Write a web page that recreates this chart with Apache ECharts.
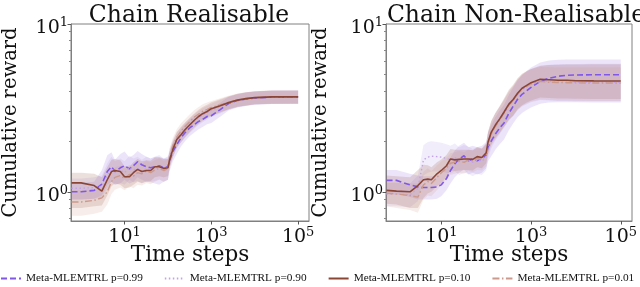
<!DOCTYPE html>
<html><head><meta charset="utf-8">
<script src="https://cdn.jsdelivr.net/npm/echarts@6/dist/echarts.min.js"></script>
<style>html,body{margin:0;padding:0;background:#fff}#c{width:640px;height:287px}</style>
</head><body><div id="c"></div>
<script>
// ---------- data ----------
const timeSteps = [0.6,1,2,3,4,5,6,8,10,13,16,20,25,32,40,50,63,80,100,110,130,160,200,250,320,400,500,630,800,1000,1600,2500,4000,6300,10000,25000,100000];
const panelTitles = ['Chain Realisable', 'Chain Non-Realisable'];
const seriesNames = ['Meta-MLEMTRL p=0.99', 'Meta-MLEMTRL p=0.90', 'Meta-MLEMTRL p=0.10', 'Meta-MLEMTRL p=0.01'];
const xTickValues = [10, 1000, 100000];
const yTickValues = [1, 10];
const yMinorTickValues = [0.7, 0.8, 0.9, 2, 3, 4, 5, 6, 7, 8, 9];

// Chain Realisable
const realP99   = [1.00,1.00,1.02,1.11,1.32,1.41,1.32,1.39,1.43,1.37,1.43,1.51,1.45,1.41,1.39,1.41,1.43,1.39,1.41,1.54,1.74,1.91,2.10,2.26,2.41,2.51,2.62,2.70,2.81,2.84,3.09,3.36,3.50,3.57,3.62,3.67,3.68];
const realP99Lo = [0.90,0.90,0.91,0.95,1.10,1.15,1.10,1.12,1.18,1.12,1.15,1.22,1.18,1.15,1.14,1.12,1.10,1.15,1.18,1.33,1.52,1.68,1.86,2.01,2.15,2.25,2.35,2.43,2.53,2.57,2.80,3.05,3.18,3.25,3.30,3.34,3.35];
const realP99Hi = [1.13,1.13,1.15,1.35,1.65,1.72,1.55,1.68,1.74,1.60,1.66,1.75,1.68,1.62,1.58,1.62,1.62,1.58,1.60,1.74,1.97,2.15,2.36,2.53,2.69,2.80,2.91,3.00,3.10,3.13,3.39,3.68,3.83,3.90,3.96,4.01,4.02];
const realP90   = [1.05,1.05,1.06,1.08,1.25,1.38,1.30,1.35,1.30,1.40,1.35,1.38,1.33,1.38,1.36,1.38,1.42,1.36,1.40,1.60,1.82,2.02,2.20,2.33,2.48,2.62,2.75,2.87,2.97,3.06,3.22,3.38,3.50,3.58,3.63,3.67,3.68];
const realP90Lo = [0.90,0.90,0.91,0.92,1.05,1.15,1.10,1.13,1.10,1.18,1.14,1.16,1.12,1.16,1.15,1.16,1.19,1.15,1.18,1.40,1.62,1.81,1.98,2.10,2.24,2.37,2.49,2.60,2.70,2.79,2.93,3.08,3.19,3.26,3.31,3.34,3.35];
const realP90Hi = [1.20,1.20,1.22,1.25,1.48,1.62,1.52,1.58,1.52,1.64,1.58,1.62,1.55,1.62,1.58,1.62,1.66,1.58,1.63,1.82,2.05,2.26,2.45,2.59,2.74,2.89,3.02,3.15,3.25,3.35,3.52,3.69,3.82,3.90,3.95,4.00,4.01];
const realP10   = [1.13,1.13,1.09,1.01,1.18,1.32,1.34,1.32,1.23,1.23,1.30,1.36,1.32,1.34,1.34,1.41,1.41,1.38,1.39,1.56,1.79,2.05,2.19,2.35,2.51,2.66,2.80,2.92,3.01,3.13,3.26,3.40,3.52,3.59,3.64,3.68,3.68];
const realP10Lo = [0.80,0.80,0.82,0.83,0.95,1.08,1.12,1.10,1.05,1.06,1.10,1.15,1.13,1.15,1.16,1.22,1.24,1.22,1.24,1.40,1.60,1.84,1.97,2.12,2.27,2.41,2.54,2.65,2.74,2.85,2.97,3.10,3.21,3.27,3.32,3.35,3.35];
const realP10Hi = [1.30,1.30,1.28,1.22,1.40,1.55,1.57,1.54,1.42,1.41,1.50,1.57,1.52,1.54,1.53,1.60,1.60,1.57,1.57,1.74,1.99,2.27,2.42,2.59,2.76,2.92,3.07,3.20,3.30,3.42,3.56,3.71,3.84,3.92,3.97,4.02,4.02];
const realP01   = [0.87,0.87,0.89,0.92,1.00,1.15,1.22,1.25,1.20,1.27,1.24,1.30,1.28,1.33,1.30,1.35,1.38,1.34,1.37,1.62,1.88,2.12,2.30,2.45,2.62,2.78,2.90,3.02,3.10,3.18,3.30,3.42,3.53,3.60,3.64,3.68,3.68];
const realP01Lo = [0.72,0.72,0.74,0.76,0.84,0.97,1.03,1.06,1.02,1.08,1.05,1.10,1.09,1.13,1.11,1.15,1.18,1.15,1.18,1.42,1.66,1.88,2.05,2.19,2.35,2.50,2.61,2.72,2.80,2.88,2.99,3.10,3.21,3.27,3.31,3.35,3.35];
const realP01Hi = [1.02,1.02,1.04,1.08,1.17,1.33,1.40,1.43,1.38,1.45,1.42,1.50,1.47,1.53,1.49,1.54,1.58,1.53,1.56,1.82,2.10,2.36,2.56,2.72,2.90,3.06,3.19,3.32,3.40,3.48,3.61,3.74,3.85,3.92,3.97,4.01,4.02];

// Chain Non-Realisable
const nonP99   = [1.17,1.17,1.10,1.07,1.06,1.06,1.06,1.07,1.10,1.20,1.34,1.47,1.57,1.64,1.53,1.57,1.53,1.57,1.66,1.85,2.01,2.21,2.40,2.57,2.94,3.24,3.56,3.81,4.00,4.19,4.55,4.75,4.88,4.95,4.97,4.98,4.98];
const nonP99Lo = [0.98,0.98,0.93,0.90,0.90,0.90,0.90,0.91,0.94,1.02,1.12,1.22,1.30,1.36,1.27,1.30,1.27,1.30,1.38,1.52,1.63,1.78,1.92,2.05,2.33,2.55,2.78,2.95,3.07,3.18,3.35,3.40,3.42,3.42,3.42,3.41,3.41];
const nonP99Hi = [1.35,1.35,1.28,1.25,1.24,1.24,1.24,1.26,1.30,1.42,1.60,1.76,1.88,1.96,1.84,1.88,1.84,1.88,1.98,2.25,2.50,2.78,3.05,3.30,3.78,4.18,4.60,4.95,5.25,5.50,5.90,6.05,6.12,6.15,6.15,6.15,6.15];
const nonP90   = [0.97,0.97,0.96,1.05,1.55,1.61,1.63,1.62,1.61,1.58,1.55,1.60,1.52,1.58,1.55,1.50,1.55,1.52,1.62,1.90,2.20,2.45,2.68,2.92,3.25,3.50,3.80,4.05,4.22,4.38,4.55,4.55,4.52,4.52,4.50,4.50,4.50];
const nonP90Lo = [0.82,0.82,0.81,0.88,1.25,1.30,1.32,1.32,1.32,1.30,1.28,1.32,1.26,1.30,1.28,1.24,1.28,1.26,1.34,1.58,1.82,2.02,2.20,2.40,2.65,2.82,3.05,3.22,3.33,3.42,3.52,3.50,3.48,3.48,3.46,3.46,3.46];
const nonP90Hi = [1.13,1.13,1.12,1.25,1.90,1.98,2.00,1.98,1.96,1.92,1.88,1.94,1.84,1.90,1.86,1.80,1.85,1.80,1.92,2.25,2.62,2.95,3.22,3.52,3.95,4.25,4.65,4.98,5.20,5.40,5.65,5.72,5.75,5.78,5.78,5.80,5.80];
const nonP10   = [1.02,1.01,1.00,1.09,1.18,1.19,1.18,1.28,1.34,1.43,1.57,1.55,1.56,1.57,1.57,1.56,1.62,1.60,1.71,1.98,2.27,2.50,2.72,2.99,3.33,3.55,3.87,4.14,4.31,4.47,4.68,4.65,4.62,4.62,4.59,4.58,4.57];
const nonP10Lo = [0.85,0.84,0.80,0.80,0.92,0.98,1.00,1.08,1.13,1.22,1.34,1.33,1.34,1.35,1.35,1.34,1.40,1.38,1.48,1.70,1.92,2.10,2.25,2.45,2.70,2.85,3.10,3.28,3.40,3.50,3.65,3.62,3.60,3.60,3.58,3.57,3.57];
const nonP10Hi = [1.25,1.24,1.22,1.35,1.45,1.44,1.40,1.50,1.56,1.66,1.80,1.78,1.78,1.78,1.78,1.77,1.84,1.82,1.95,2.28,2.66,2.95,3.25,3.60,4.05,4.35,4.75,5.05,5.25,5.40,5.62,5.70,5.72,5.74,5.74,5.75,5.75];
const nonP01   = [0.98,0.97,0.95,0.93,1.10,1.15,1.12,1.22,1.30,1.38,1.48,1.50,1.52,1.50,1.55,1.53,1.58,1.56,1.66,1.95,2.22,2.45,2.68,2.95,3.28,3.50,3.82,4.08,4.25,4.40,4.55,4.50,4.48,4.47,4.46,4.45,4.45];
const nonP01Lo = [0.82,0.80,0.78,0.75,0.90,0.95,0.94,1.02,1.10,1.18,1.26,1.28,1.30,1.28,1.33,1.31,1.35,1.34,1.42,1.66,1.88,2.06,2.24,2.44,2.68,2.84,3.08,3.26,3.36,3.45,3.55,3.52,3.50,3.50,3.49,3.48,3.48];
const nonP01Hi = [1.15,1.14,1.12,1.12,1.32,1.38,1.33,1.44,1.52,1.60,1.70,1.72,1.75,1.72,1.78,1.76,1.82,1.80,1.92,2.28,2.62,2.92,3.20,3.55,3.98,4.28,4.70,5.02,5.22,5.38,5.55,5.52,5.50,5.50,5.50,5.50,5.50];

// ---------- styling ----------
const FONT = 'DejaVu Serif';
const lineColors = ['#8057e8', '#c3a3e6', '#8b4535', '#cc9a8c'];
const bandColors = ['rgba(135,95,225,0.16)', 'rgba(170,140,225,0.16)', 'rgba(140,70,55,0.17)', 'rgba(205,150,130,0.17)'];
const lineTypes = [[6, 3], [1.5, 2.5], 'solid', [7, 2.5, 1.5, 2.5]];
const widths = [1.6, 1.4, 1.6, 1.4];

const panels = [
  { mean: [realP99, realP90, realP10, realP01], lo: [realP99Lo, realP90Lo, realP10Lo, realP01Lo], hi: [realP99Hi, realP90Hi, realP10Hi, realP01Hi] },
  { mean: [nonP99, nonP90, nonP10, nonP01], lo: [nonP99Lo, nonP90Lo, nonP10Lo, nonP01Lo], hi: [nonP99Hi, nonP90Hi, nonP10Hi, nonP01Hi] }
];

const gridDefs = [
  { left: 59, top: 24, width: 250, height: 197 },
  { left: 386, top: 24, width: 250, height: 197 }
];
const X_MIN = 0.584, X_MAX = 178000, Y_MIN = 0.67, Y_MAX = 10;

const powFmt = v => '{b|10}{s|' + Math.round(Math.log10(v)) + '}';
const rich = { b: { fontFamily: FONT, fontSize: 19, color: '#111' }, s: { fontFamily: FONT, fontSize: 13, color: '#111', padding: [0, 0, 10, 0] } };

const grid = gridDefs.map(g => Object.assign({ show: true, borderColor: '#808080', borderWidth: 1, backgroundColor: 'transparent' }, g));
const title = panelTitles.map((t, i) => ({
  text: t, left: gridDefs[i].left + gridDefs[i].width / 2, top: -1, textAlign: 'center',
  textStyle: { fontFamily: FONT, fontSize: 23.5, fontWeight: 'normal', color: '#111' }
}));

const xAxis = [], yAxis = [];
[0, 1].forEach(i => {
  xAxis.push({
    type: 'log', gridIndex: i, min: X_MIN, max: X_MAX, logBase: 10,
    name: 'Time steps', nameLocation: 'middle', nameGap: 23, nameMoveOverlap: false,
    nameTextStyle: { fontFamily: FONT, fontSize: 21.5, color: '#111' },
    axisLine: { show: true, lineStyle: { color: '#808080' } },
    axisTick: { show: true, length: 3.5, customValues: xTickValues, lineStyle: { color: '#555' } },
    axisLabel: { customValues: xTickValues, formatter: powFmt, rich: rich, margin: 5, color: '#111' },
    splitLine: { show: false }, minorTick: { show: false }
  });
  yAxis.push({
    type: 'log', gridIndex: i, min: Y_MIN, max: Y_MAX, logBase: 10, position: 'left',
    name: 'Cumulative reward', nameLocation: 'middle', nameRotate: 90, nameGap: i === 0 ? 50 : 55, nameMoveOverlap: false,
    nameTextStyle: { fontFamily: FONT, fontSize: 19.5, color: '#111' },
    axisLine: { show: true, lineStyle: { color: '#808080' } },
    axisTick: { show: true, length: 3.5, customValues: yTickValues, lineStyle: { color: '#555' } },
    axisLabel: { customValues: yTickValues, formatter: powFmt, rich: rich, margin: 3, padding: [8, 0, 0, 0], color: '#111' },
    splitLine: { show: false }, minorTick: { show: false }
  });
});
// minor y ticks (one extra y axis per grid, no labels, on the left)
[0, 1].forEach(i => {
  yAxis.push({
    type: 'log', gridIndex: i, min: Y_MIN, max: Y_MAX, logBase: 10, position: 'left', offset: 0,
    axisLine: { show: false },
    axisTick: { show: true, length: 2, customValues: yMinorTickValues, lineStyle: { color: '#888' } },
    axisLabel: { show: false }, splitLine: { show: false }
  });
});

const series = [];
panels.forEach((p, pi) => {
  p.mean.forEach((m, si) => {
    const lo = p.lo[si], hi = p.hi[si];
    series.push({
      type: 'custom', xAxisIndex: pi, yAxisIndex: pi, silent: true, z: 1,
      data: timeSteps.map((t, k) => [t, lo[k], hi[k]]),
      encode: { x: 0, y: [1, 2] },
      renderItem: function (params, api) {
        if (params.dataIndex !== 0) return null;
        const up = [], down = [];
        for (let k = 0; k < timeSteps.length; k++) {
          up.push(api.coord([timeSteps[k], hi[k]]));
          down.push(api.coord([timeSteps[k], lo[k]]));
        }
        return { type: 'polygon', shape: { points: up.concat(down.reverse()) }, style: { fill: bandColors[si], stroke: null } };
      }
    });
  });
});
panels.forEach((p, pi) => {
  p.mean.forEach((m, si) => {
    series.push({
      type: 'line', name: seriesNames[si], xAxisIndex: pi, yAxisIndex: pi, z: 3 + (si === 2 ? 1 : 0),
      showSymbol: false, symbol: 'none', animation: false,
      data: timeSteps.map((t, k) => [t, m[k]]),
      lineStyle: { color: lineColors[si], width: widths[si], type: lineTypes[si] },
      itemStyle: { color: lineColors[si] }
    });
  });
});

const chart = echarts.init(document.getElementById('c'), null, { renderer: 'canvas' });
chart.setOption({
  animation: false,
  backgroundColor: '#fff',
  title: title,
  grid: grid,
  xAxis: xAxis,
  yAxis: yAxis,
  legend: {
    data: seriesNames, left: 0, top: 273, width: 640, padding: 0,
    itemWidth: 20, itemHeight: 8, itemGap: 21,
    itemStyle: { color: 'transparent', borderWidth: 0, opacity: 0 },
    textStyle: { fontFamily: 'Liberation Serif', fontSize: 11.3, color: '#111' }
  },
  series: series
});
</script>
</body></html>
